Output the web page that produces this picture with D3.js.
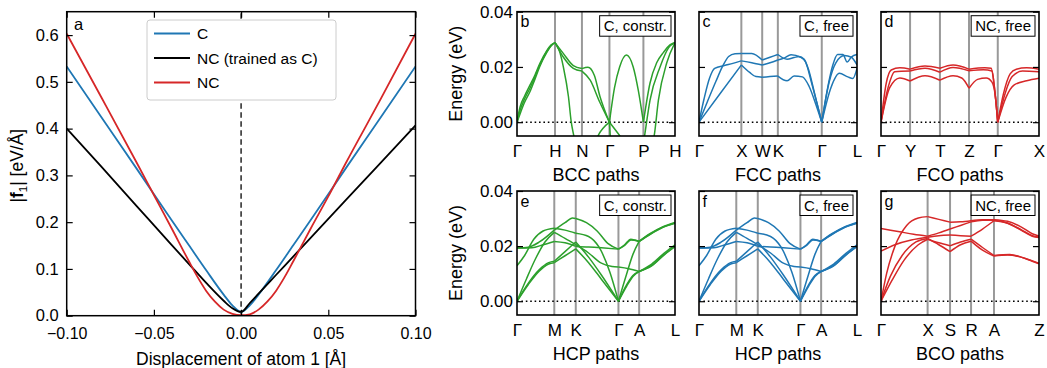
<!DOCTYPE html>
<html>
<head>
<meta charset="utf-8">
<script src="https://cdn.jsdelivr.net/npm/d3@7"></script>
<style>
  body { margin: 0; background: #fff; }
  svg { display: block; }
  text { font-family: "Liberation Sans", Arial, Helvetica, sans-serif; fill: #000; }
</style>
</head>
<body>
<svg id="chart" width="1047" height="368"></svg>
<script>
// ---- panel a: force on atom 1 vs displacement ----
const dispX = [-0.10, -0.08, -0.06, -0.04, -0.03, -0.02, -0.01, -0.005, 0, 0.005, 0.01, 0.02, 0.03, 0.04, 0.06, 0.08, 0.10];
const forceC = [0.533, 0.424, 0.315, 0.205, 0.151, 0.097, 0.045, 0.022, 0.008, 0.022, 0.045, 0.097, 0.151, 0.205, 0.315, 0.424, 0.533];
const forceNCasC = [0.400, 0.318, 0.235, 0.152, 0.111, 0.070, 0.032, 0.016, 0.008, 0.027, 0.047, 0.087, 0.127, 0.167, 0.247, 0.327, 0.407];
const dispXfine = [-0.10, -0.08, -0.06, -0.05, -0.04, -0.03, -0.025, -0.02, -0.015, -0.01, -0.005, 0, 0.005, 0.01, 0.015, 0.02, 0.025, 0.03, 0.04, 0.05, 0.06, 0.08, 0.10];
const forceNC = [0.603, 0.466, 0.328, 0.258, 0.188, 0.117, 0.083, 0.053, 0.030, 0.013, 0.004, 0.001, 0.003, 0.013, 0.030, 0.053, 0.083, 0.117, 0.187, 0.255, 0.326, 0.463, 0.603];
const xTicksA = [-0.10, -0.05, 0, 0.05, 0.10];
const yTicksA = [0, 0.1, 0.2, 0.3, 0.4, 0.5, 0.6];
const legendNames = ["C", "NC (trained as C)", "NC"];

// ---- phonon panels: high-symmetry points (path fraction) and labels ----
const bccTicks = [0, 0.2405, 0.411, 0.585, 0.80, 1];
const bccLabels = ["Γ", "H", "N", "Γ", "P", "H"];
const fccTicks = [0, 0.268, 0.40, 0.499, 0.777, 1];
const fccLabels = ["Γ", "X", "W", "K", "Γ", "L"];
const fcoTicks = [0, 0.184, 0.373, 0.557, 0.739, 1];
const fcoLabels = ["Γ", "Y", "T", "Z", "Γ", "X"];
const hcpTicks = [0, 0.236, 0.372, 0.642, 0.773, 1];
const hcpLabels = ["Γ", "M", "K", "Γ", "A", "L"];
const bcoTicks = [0, 0.295, 0.437, 0.57, 0.715, 1];
const bcoLabels = ["Γ", "X", "S", "R", "A", "Z"];
const energyTicks = [0, 0.02, 0.04];

// branches: [segment position (index of high-symmetry point), energy eV]
const bccBranches = [
  [[0,0],[0.08,0.0055],[0.2,0.0095],[0.34,0.0134],[0.47,0.017],[0.6,0.0212],[0.78,0.0258],[0.9,0.028],[1,0.0288],
   [1.3,0.025],[1.68,0.0205],[2,0.0194],
   [2.22,0.0199],[2.45,0.017],[2.65,0.0095],[3,0],
   [3.15,0.0125],[3.3,0.02],[3.5,0.0243],[3.7,0.02],[3.85,0.0115],[4,0],
   [4.21,0.0142],[4.42,0.0215],[4.63,0.0252],[4.84,0.028],[5,0.0289]],
  [[0,0],[0.08,0.0042],[0.2,0.0085],[0.34,0.0123],[0.47,0.0163],[0.6,0.0207],[0.78,0.0255],[0.9,0.0278],[1,0.0288],
   [1.3,0.0237],[1.68,0.0195],[2,0.0185],
   [2.3,0.0152],[2.65,0.0072],[3,0],
   [3.31,-0.005],[3.6,-0.01],[3.9,-0.01],[4,-0.008],
   [4.05,-0.004],[4.21,0.008],[4.53,0.0201],[4.8,0.027],[5,0.0288]],
  [[0,0],[0.08,0.003],[0.2,0.0072],[0.34,0.011],[0.47,0.0155],[0.6,0.0202],[0.78,0.0252],[0.9,0.0277],[1,0.0288],
   [1.15,0.0262],[1.31,0.02],[1.5,0.0092],[1.6,0.0003],[1.7,-0.005],[1.85,-0.012],[2,-0.015],
   [2.3,-0.012],[2.58,-0.005],[3,0],
   [3.05,-0.008],[3.5,-0.015],[4,-0.015],
   [4.2,-0.01],[4.34,-0.005],[4.475,0.008],[4.74,0.0215],[5,0.0288]]
];

const fccBranches = [
  [[0,0],[0.2,0.0075],[0.4,0.0148],[0.55,0.02],[0.7,0.0238],[0.85,0.0248],[1,0.0249],[1.5,0.0249],[2,0.0225],[2.5,0.0235],[3,0.0245],
   [3.21,0.0228],[3.37,0.0234],[3.48,0.0238],[3.6,0.0228],[3.7,0.019],[3.85,0.0095],[4,0],
   [4.16,0.012],[4.31,0.0205],[4.45,0.0245],[4.6,0.0245],[4.72,0.0218],[4.84,0.0236],[5,0.0245]],
  [[0,0],[0.12,0.0085],[0.25,0.016],[0.37,0.0195],[0.6,0.0205],[0.8,0.0213],[1,0.0222],[1.5,0.0215],[2,0.0207],[2.5,0.0215],[3,0.0225],
   [3.14,0.0232],[3.3,0.0244],[3.52,0.0235],[3.63,0.0218],[3.78,0.0135],[4,0],
   [4.21,0.0145],[4.4,0.0215],[4.64,0.0241],[4.84,0.0235],[5,0.0207]],
  [[0,0],[0.5,0.0104],[1,0.0207],[1.4,0.018],[1.7,0.0165],[2,0.0163],[2.5,0.0165],[3,0.0167],
   [3.21,0.015],[3.37,0.0167],[3.56,0.0164],[3.71,0.013],[3.86,0.0067],[4,0],
   [4.26,0.0125],[4.5,0.0177],[4.74,0.0164],[4.88,0.0158],[5,0.0195]]
];

const fcoBranches = [
  [[0,0],[0.18,0.0141],[0.35,0.0189],[0.65,0.0197],[1,0.0192],[1.5,0.0203],[2,0.0195],[2.45,0.0207],[3,0.0192],
   [3.55,0.0197],[3.77,0.0195],[3.88,0.013],[4,0],[4.14,0.0104],[4.3,0.0175],[4.45,0.0192],[4.7,0.0197],[5,0.0192]],
  [[0,0],[0.25,0.0128],[0.47,0.0183],[1,0.0185],[1.5,0.0195],[2,0.0181],[2.45,0.0198],[3,0.0186],
   [3.5,0.019],[3.8,0.0185],[3.9,0.011],[4,0],[4.18,0.0105],[4.35,0.0165],[4.6,0.0185],[5,0.0183]],
  [[0,0],[0.3,0.0125],[0.65,0.016],[1,0.0149],[1.5,0.0168],[2,0.0152],[2.45,0.0168],[2.75,0.016],[3,0.0123],
   [3.3,0.0155],[3.6,0.016],[3.8,0.0145],[3.92,0.009],[4,0],[4.2,0.009],[4.4,0.0135],[4.7,0.015],[5,0.0159]]
];

const hcpBranches = [
  [[0,0.0193],[0.3,0.0196],[0.6,0.0215],[1,0.0258],[1.5,0.0285],[1.85,0.0302],[2,0.03],[2.25,0.0285],[2.5,0.0255],[2.75,0.021],[3,0.0189],
   [3.3,0.0205],[3.6,0.0225],[3.8,0.0222],[4,0.0217],[4.3,0.0245],[4.65,0.027],[5,0.0286]],
  [[0,0.0193],[0.4,0.0194],[0.7,0.0205],[1,0.0217],[1.5,0.0212],[2,0.0199],[2.3,0.0197],[2.6,0.0194],[3,0.0189],
   [3.3,0.0203],[3.6,0.0222],[4,0.0217],[4.3,0.0243],[4.65,0.0268],[5,0.0284]],
  [[0,0.0129],[0.2,0.0165],[0.45,0.0225],[0.7,0.0255],[1,0.0265],[1.5,0.0258],[2,0.0247],[2.3,0.0235],[2.55,0.0195],[2.8,0.0105],[3,0],
   [3.4,0.01],[3.7,0.017],[4,0.0217],[4.3,0.0242],[4.65,0.0267],[5,0.0283]],
  [[0,0],[0.25,0.008],[0.5,0.0155],[0.75,0.0215],[1,0.025],[1.5,0.0228],[2,0.0205],[2.3,0.0175],[2.6,0.0138],[2.85,0.0126],[3,0.0124],
   [3.5,0.0118],[4,0.0108],[4.35,0.0135],[4.7,0.0175],[5,0.0205]],
  [[0,0],[0.3,0.0065],[0.6,0.0115],[0.85,0.014],[1,0.0145],[1.5,0.018],[2,0.0215],[2.3,0.016],[2.6,0.0095],[3,0],
   [3.4,0.006],[3.7,0.0093],[4,0.0108],[4.35,0.013],[4.7,0.017],[5,0.0199]],
  [[0,0],[0.3,0.006],[0.6,0.011],[0.85,0.0135],[1,0.014],[1.5,0.0165],[2,0.019],[2.3,0.014],[2.6,0.008],[3,0],
   [3.4,0.0055],[3.7,0.009],[4,0.0108],[4.35,0.0128],[4.7,0.0168],[5,0.0198]]
];

const bcoBranches = [
  [[0,0],[0.12,0.01],[0.3,0.02],[0.55,0.0275],[0.8,0.0302],[1,0.0307],[1.5,0.0297],[2,0.0287],[2.5,0.0288],[3,0.0292],
   [3.5,0.0296],[4,0.0296],[4.3,0.029],[4.6,0.027],[4.85,0.0245],[5,0.0237]],
  [[0,0.0264],[0.4,0.0252],[0.7,0.0243],[1,0.0236],[1.5,0.0248],[2,0.0262],[2.5,0.0275],[3,0.0288],
   [3.5,0.0294],[4,0.0294],[4.3,0.0284],[4.6,0.026],[4.85,0.0238],[5,0.0233]],
  [[0,0.0182],[0.3,0.0205],[0.65,0.0222],[1,0.0232],[1.5,0.0238],[2,0.024],[2.5,0.0238],[3,0.0236],
   [3.5,0.0262],[4,0.0292],[4.3,0.0283],[4.6,0.0258],[4.85,0.0236],[5,0.0231]],
  [[0,0],[0.2,0.009],[0.45,0.0165],[0.75,0.0215],[1,0.0228],[1.5,0.0205],[2,0.018],[2.5,0.0205],[3,0.0218],
   [3.5,0.0185],[4,0.0164],[4.3,0.0168],[4.6,0.016],[4.85,0.0145],[5,0.0136]],
  [[0,0],[0.25,0.008],[0.5,0.015],[0.8,0.0205],[1,0.0225],[1.5,0.0212],[2,0.0201],[2.5,0.0215],[3,0.0225],
   [3.5,0.0195],[4,0.0166],[4.35,0.017],[4.65,0.0158],[5,0.0138]]
];

const GREEN = "#2ca02c", BLUE = "#1f77b4", RED = "#d62728";

const svg = d3.select("#chart");

// ================= panel a =================
const A = { left: 66.7, right: 415.5, top: 11.7, bottom: 315.7 };
const xa = d3.scaleLinear().domain([-0.1, 0.1]).range([A.left, A.right]);
const ya = d3.scaleLinear().domain([0, 0.65]).range([A.bottom, A.top]);
const ga = svg.append("g");

ga.append("defs").append("clipPath").attr("id", "clip-a")
  .append("rect").attr("x", A.left).attr("y", A.top)
  .attr("width", A.right - A.left).attr("height", A.bottom - A.top);

ga.append("line")
  .attr("x1", xa(0)).attr("x2", xa(0)).attr("y1", ya(0)).attr("y2", ya(0.65))
  .attr("stroke", "#333").attr("stroke-width", 1.6).attr("stroke-dasharray", "5.5,3.5");

const lineA = d3.line().x(d => xa(d[0])).y(d => ya(d[1])).curve(d3.curveMonotoneX);
const seriesA = [
  { xs: dispX, ys: forceC, color: BLUE },
  { xs: dispX, ys: forceNCasC, color: "#000" },
  { xs: dispXfine, ys: forceNC, color: RED }
];
seriesA.forEach(s => {
  ga.append("path")
    .datum(s.xs.map((x, i) => [x, s.ys[i]]))
    .attr("clip-path", "url(#clip-a)")
    .attr("fill", "none").attr("stroke", s.color).attr("stroke-width", 1.8)
    .attr("d", lineA);
});

// legend
const lg = ga.append("g");
lg.append("rect").attr("x", 147).attr("y", 20).attr("width", 189).attr("height", 80)
  .attr("rx", 3).attr("fill", "#fff").attr("stroke", "#cccccc").attr("stroke-width", 1);
legendNames.forEach((name, i) => {
  const yy = 33.5 + i * 24.5;
  lg.append("line").attr("x1", 154).attr("x2", 190).attr("y1", yy).attr("y2", yy)
    .attr("stroke", seriesA[i].color).attr("stroke-width", 1.8);
  lg.append("text").attr("x", 197).attr("y", yy + 5.5).attr("font-size", 15.5).text(name);
});

// axes a
function styleAxis(g, fs) {
  g.select(".domain").remove();
  g.selectAll(".tick line").attr("stroke", "#000").attr("stroke-width", 1.2);
  g.selectAll(".tick text").attr("font-size", fs).attr("font-family", null);
}
ga.append("g").attr("transform", `translate(0,${A.bottom})`)
  .call(d3.axisBottom(xa).tickValues(xTicksA).tickSizeInner(-6).tickSizeOuter(0).tickPadding(12).tickFormat(d3.format(".2f")))
  .call(g => styleAxis(g, 16));
ga.append("g").attr("transform", `translate(0,${A.top})`)
  .call(d3.axisTop(xa).tickValues(xTicksA).tickSizeInner(-6).tickSizeOuter(0).tickFormat(""))
  .call(g => styleAxis(g, 16));
ga.append("g").attr("transform", `translate(${A.left},0)`)
  .call(d3.axisLeft(ya).tickValues(yTicksA).tickSizeInner(-6).tickSizeOuter(0).tickPadding(8).tickFormat(d3.format(".1f")))
  .call(g => styleAxis(g, 16.5));
ga.append("g").attr("transform", `translate(${A.right},0)`)
  .call(d3.axisRight(ya).tickValues(yTicksA).tickSizeInner(-6).tickSizeOuter(0).tickFormat(""))
  .call(g => styleAxis(g, 16));

ga.append("rect").attr("x", A.left).attr("y", A.top)
  .attr("width", A.right - A.left).attr("height", A.bottom - A.top)
  .attr("fill", "none").attr("stroke", "#000").attr("stroke-width", 1.5);

ga.append("text").attr("x", 74).attr("y", 29.5).attr("font-size", 16.5).text("a");
ga.append("text").attr("x", (A.left + A.right) / 2).attr("y", 365)
  .attr("text-anchor", "middle").attr("font-size", 17.5).text("Displacement of atom 1 [Å]");
const yl = ga.append("text").attr("transform", `translate(23,${(A.top + A.bottom) / 2 + 2}) rotate(-90)`)
  .attr("text-anchor", "middle").attr("font-size", 17.5);
yl.append("tspan").text("|");
yl.append("tspan").attr("font-weight", "bold").text("f");
yl.append("tspan").attr("font-size", 11.5).attr("dy", 3.5).text("1");
yl.append("tspan").attr("dy", -3.5).text("| [eV/Å]");

// ================= phonon panels =================
const colX = [517, 699, 881];
const panelW = 158;
const rowY = [{ top: 11.7, bottom: 136 }, { top: 191, bottom: 315 }];

const panels = [
  { col: 0, row: 0, ticks: bccTicks, labels: bccLabels, branches: bccBranches, color: GREEN, letter: "b", tag: "C, constr.", xlabel: "BCC paths" },
  { col: 1, row: 0, ticks: fccTicks, labels: fccLabels, branches: fccBranches, color: BLUE, letter: "c", tag: "C, free", xlabel: "FCC paths" },
  { col: 2, row: 0, ticks: fcoTicks, labels: fcoLabels, branches: fcoBranches, color: RED, letter: "d", tag: "NC, free", xlabel: "FCO paths" },
  { col: 0, row: 1, ticks: hcpTicks, labels: hcpLabels, branches: hcpBranches, color: GREEN, letter: "e", tag: "C, constr.", xlabel: "HCP paths" },
  { col: 1, row: 1, ticks: hcpTicks, labels: hcpLabels, branches: hcpBranches, color: BLUE, letter: "f", tag: "C, free", xlabel: "HCP paths" },
  { col: 2, row: 1, ticks: bcoTicks, labels: bcoLabels, branches: bcoBranches, color: RED, letter: "g", tag: "NC, free", xlabel: "BCO paths" }
];

panels.forEach(p => {
  const x0 = colX[p.col], x1 = x0 + panelW;
  const y0 = rowY[p.row].top, y1 = rowY[p.row].bottom;
  const g = svg.append("g");
  const frac = d3.scaleLinear().domain([0, 1]).range([x0, x1]);
  const xs = d3.scaleLinear().domain(p.ticks.map((t, i) => i)).range(p.ticks.map(t => frac(t)));
  const ys = d3.scaleLinear().domain([-0.005, 0.04]).range([y1, y0]);
  const clipId = "clip-" + p.letter;

  g.append("defs").append("clipPath").attr("id", clipId)
    .append("rect").attr("x", x0).attr("y", y0).attr("width", x1 - x0).attr("height", y1 - y0);

  // high-symmetry lines
  g.selectAll(".hs").data(p.ticks.slice(1, -1).map((t, i) => i + 1)).enter()
    .append("line")
    .attr("x1", d => xs(d)).attr("x2", d => xs(d)).attr("y1", y0).attr("y2", y1)
    .attr("stroke", "#999").attr("stroke-width", 2);

  // zero line
  g.append("line").attr("x1", x0).attr("x2", x1).attr("y1", ys(0)).attr("y2", ys(0))
    .attr("stroke", "#000").attr("stroke-width", 1.6).attr("stroke-dasharray", "1.6,2.8");

  // branches, one path per segment between high-symmetry points
  const line = d3.line().x(d => xs(d[0])).y(d => ys(d[1])).curve(d3.curveMonotoneX);
  const nSeg = p.ticks.length - 1;
  const bg = g.append("g").attr("clip-path", `url(#${clipId})`);
  p.branches.forEach(br => {
    for (let i = 0; i < nSeg; i++) {
      const pts = br.filter(q => q[0] >= i && q[0] <= i + 1);
      if (pts.length < 2) continue;
      bg.append("path").datum(pts).attr("fill", "none")
        .attr("stroke", p.color).attr("stroke-width", 1.5).attr("d", line);
    }
  });

  // y axes (inward ticks both sides)
  g.append("g").attr("transform", `translate(${x0},0)`)
    .call(d3.axisLeft(ys).tickValues(energyTicks).tickSizeInner(-6).tickSizeOuter(0).tickPadding(4)
      .tickFormat(p.col === 0 ? d3.format(".2f") : ""))
    .call(a => styleAxis(a, 17));
  g.append("g").attr("transform", `translate(${x1},0)`)
    .call(d3.axisRight(ys).tickValues(energyTicks).tickSizeInner(-6).tickSizeOuter(0).tickFormat(""))
    .call(a => styleAxis(a, 17));
  // x labels at high-symmetry points
  g.append("g").attr("transform", `translate(0,${y1})`)
    .call(d3.axisBottom(xs).tickValues(d3.range(p.labels.length)).tickSize(0).tickPadding(8.5)
      .tickFormat(i => p.labels[i]))
    .call(a => styleAxis(a, 17));

  g.append("rect").attr("x", x0).attr("y", y0).attr("width", x1 - x0).attr("height", y1 - y0)
    .attr("fill", "none").attr("stroke", "#000").attr("stroke-width", 1.6);

  // tag box
  const tg = g.append("g");
  const tt = tg.append("text").attr("font-size", 15).attr("text-anchor", "end")
    .attr("x", x1 - 8).attr("y", y0 + 19.5).text(p.tag);
  const tw = tt.node().getComputedTextLength();
  tg.insert("rect", "text").attr("x", x1 - 8 - tw - 4).attr("y", y0 + 4)
    .attr("width", tw + 8).attr("height", 20.5)
    .attr("fill", "#fff").attr("stroke", "#000").attr("stroke-width", 1);

  g.append("text").attr("x", x0 + 3.5).attr("y", y0 + 15.5).attr("font-size", 16).text(p.letter);
  g.append("text").attr("x", (x0 + x1) / 2).attr("y", y1 + 44.5)
    .attr("text-anchor", "middle").attr("font-size", 18).text(p.xlabel);

  if (p.col === 0) {
    g.append("text").attr("transform", `translate(462,${(y0 + y1) / 2}) rotate(-90)`)
      .attr("text-anchor", "middle").attr("font-size", 18).text("Energy (eV)");
  }
});
</script>
</body>
</html>
